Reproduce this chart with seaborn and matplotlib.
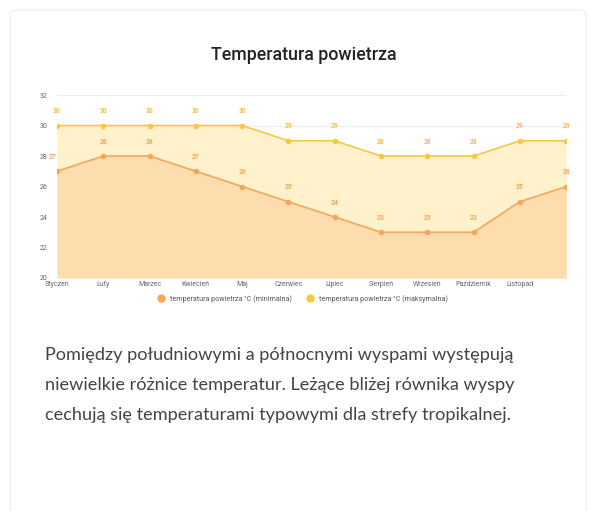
import matplotlib
matplotlib.use("Agg")
import matplotlib.pyplot as plt
import seaborn as sns
import pandas as pd
from matplotlib.patches import FancyBboxPatch
from matplotlib.lines import Line2D

months = ["Styczeń", "Luty", "Marzec", "Kwiecień", "Maj", "Czerwiec", "Lipiec",
          "Sierpień", "Wrzesień", "Październik", "Listopad", "Grudzień"]
tick_labels = ["Styczeń", "Luty", "Marzec", "Kwiecień", "Maj", "Czerwiec", "Lipiec",
               "Sierpień", "Wrzesień", "Październik", "Listopad", ""]
temp_min = [27, 28, 28, 27, 26, 25, 24, 23, 23, 23, 25, 26]
temp_max = [30, 30, 30, 30, 30, 29, 29, 28, 28, 28, 29, 29]
y_ticks = [20, 22, 24, 26, 28, 30, 32]
name_min = "temperatura powietrza °C (minimalna)"
name_max = "temperatura powietrza °C (maksymalna)"
title = "Temperatura powietrza"
paragraph = ["Pomiędzy południowymi a północnymi wyspami występują",
             "niewielkie różnice temperatur. Leżące bliżej równika wyspy",
             "cechują się temperaturami typowymi dla strefy tropikalnej."]

sns.set_theme(style="white")
plt.rcParams["font.family"] = ["Roboto", "DejaVu Sans"]

c_min_line = "#f5a65b"
c_max_line = "#f7c843"
c_min_fill = "#fddcae"
c_max_fill = "#fef1cc"

fig = plt.figure(figsize=(5.9, 5.11), dpi=100)
fig.patch.set_facecolor("white")

# card
card = FancyBboxPatch((0.018, -0.02), 0.975, 1.0, boxstyle="round,pad=0,rounding_size=0.01",
                      transform=fig.transFigure, facecolor="white", edgecolor="#f0f0f0",
                      linewidth=1.0, zorder=-10)
fig.patches.append(card)

fig.text(0.515, 0.892, title, ha="center", va="center", fontsize=12.8, fontweight="medium",
         color="#222222")

ax = fig.add_axes([0.0966, 0.456, 0.863, 0.358])
ax.set_zorder(5)
ax.patch.set_alpha(0)
x = list(range(len(months)))
df = pd.DataFrame({"x": x, "min": temp_min, "max": temp_max})

ax.fill_between(df["x"], 20, df["max"], color=c_max_fill, zorder=1, linewidth=0)
ax.fill_between(df["x"], 20, df["min"], color=c_min_fill, zorder=2, linewidth=0)
sns.lineplot(data=df, x="x", y="max", ax=ax, color=c_max_line, linewidth=1.2,
             marker="o", markersize=4, markeredgewidth=0, zorder=4)
sns.lineplot(data=df, x="x", y="min", ax=ax, color=c_min_line, linewidth=1.2,
             marker="o", markersize=4, markeredgewidth=0, zorder=4)

for xi, v in zip(x, temp_max):
    ax.annotate(str(v), (xi, v), xytext=(0, 7.5), textcoords="offset points",
                ha="center", va="bottom", fontsize=4.8, color="#f5c040",
                fontweight="bold", annotation_clip=False)
for xi, v in zip(x, temp_min):
    dx = -3 if xi == 0 else 0
    ax.annotate(str(v), (xi, v), xytext=(dx, 7.5), textcoords="offset points",
                ha="center", va="bottom", fontsize=4.8, color="#f5a65b",
                fontweight="bold", annotation_clip=False)

ax.set_xlim(0, 11)
ax.set_ylim(20, 32)
ax.set_yticks(y_ticks)
ax.set_yticklabels([str(t) for t in y_ticks], fontsize=5, color="#666666")
ax.set_xticks(x)
ax.set_xticklabels(tick_labels, fontsize=5, color="#666666")
ax.tick_params(axis="y", length=0, pad=7)
ax.tick_params(axis="x", length=0, pad=2)
ax.set_xlabel("")
ax.set_ylabel("")
for s in ax.spines.values():
    s.set_visible(False)
ax.grid(axis="y", color="#e2e2e2", linewidth=0.6)
for gl in ax.get_ygridlines():
    gl.set_zorder(3)
    gl.set_alpha(0.7)

handles = [Line2D([], [], marker="o", linestyle="", color=c_min_line, markersize=5),
           Line2D([], [], marker="o", linestyle="", color=c_max_line, markersize=5)]
fig.legend(handles, [name_min, name_max], loc="center", bbox_to_anchor=(0.51, 0.415),
           ncol=2, frameon=False, fontsize=5.1, handletextpad=0.3, columnspacing=1.5,
           labelcolor="#555555")

for i, line in enumerate(paragraph):
    fig.text(0.076, 1 - (355 + 30 * i) / 511, line, ha="left", va="center",
             fontsize=13.05, color="#444444", family=["Lato", "DejaVu Sans"])

fig.savefig("out.png", dpi=100, facecolor="white")
